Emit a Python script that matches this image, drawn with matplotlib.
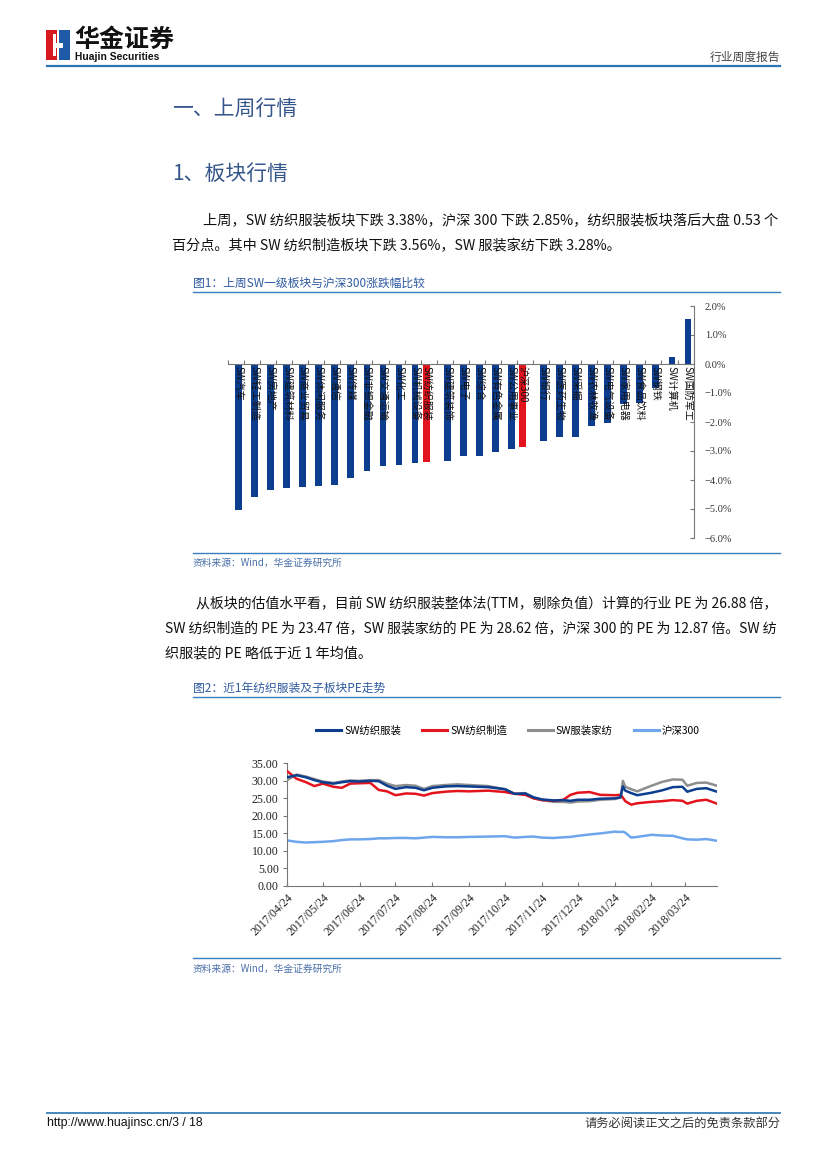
import numpy as np
import pandas as pd
import matplotlib
matplotlib.use("Agg")
import matplotlib.pyplot as plt
from matplotlib.lines import Line2D
from matplotlib.patches import Rectangle
from matplotlib.ticker import FuncFormatter

CJK = ['Noto Sans CJK SC', 'DejaVu Sans']
SERIF = ['Liberation Serif', 'Noto Sans CJK SC']
plt.rcParams['font.family'] = CJK

W, H = 827, 1169

# ---------- chart 1: weekly change by SW industry (%) ----------
industries = ['SW汽车', 'SW轻工制造', 'SW房地产', 'SW建筑材料', 'SW商业贸易', 'SW休闲服务',
              'SW通信', 'SW传媒', 'SW非银金融', 'SW交通运输', 'SW化工', 'SW机械设备',
              'SW纺织服装', 'SW建筑装饰', 'SW电子', 'SW综合', 'SW有色金属', 'SW公用事业',
              '沪深300', 'SW银行', 'SW医药生物', 'SW采掘', 'SW农林牧渔', 'SW电气设备',
              'SW家用电器', 'SW食品饮料', 'SW钢铁', 'SW计算机', 'SW国防军工']
changes = [-5.03, -4.59, -4.34, -4.28, -4.24, -4.20, -4.17, -3.93, -3.68, -3.51, -3.48,
           -3.40, -3.38, -3.35, -3.17, -3.16, -3.03, -2.94, -2.85, -2.66, -2.51, -2.50,
           -2.14, -2.05, -1.38, -1.33, -0.83, 0.25, 1.54]
highlight = ['SW纺织服装', '沪深300']

# ---------- chart 2: PE (TTM) over the last year ----------
pe_dates = ['2017-04-24', '2017-05-02', '2017-05-10', '2017-05-17', '2017-05-24', '2017-06-02',
            '2017-06-09', '2017-06-16', '2017-06-23', '2017-07-03', '2017-07-10', '2017-07-17',
            '2017-07-24', '2017-08-02', '2017-08-10', '2017-08-17', '2017-08-24', '2017-09-04',
            '2017-09-14', '2017-09-24', '2017-10-10', '2017-10-24', '2017-11-01', '2017-11-10',
            '2017-11-17', '2017-11-24', '2017-12-04', '2017-12-12', '2017-12-18', '2017-12-24',
            '2018-01-03', '2018-01-12', '2018-01-24', '2018-01-29', '2018-01-31', '2018-02-02',
            '2018-02-07', '2018-02-12', '2018-02-24', '2018-03-05', '2018-03-14', '2018-03-22',
            '2018-03-26', '2018-04-03', '2018-04-11', '2018-04-20']
pe_textile_apparel = [31.0, 31.6, 31.0, 30.2, 29.6, 29.2, 29.6, 29.9, 29.8, 30.0, 29.9, 28.6,
                      27.7, 28.2, 28.0, 27.3, 28.0, 28.4, 28.5, 28.4, 28.2, 27.6, 26.3, 26.4,
                      25.3, 24.7, 24.4, 24.5, 24.3, 24.6, 24.6, 24.9, 25.0, 25.3, 28.4, 27.2,
                      26.5, 25.9, 26.6, 27.3, 28.2, 28.3, 26.9, 27.7, 27.9, 26.9]
pe_textile_mfg = [32.8, 30.6, 29.6, 28.5, 29.2, 28.3, 28.0, 29.2, 29.3, 29.4, 27.4, 27.0,
                  25.9, 26.4, 26.3, 25.8, 26.5, 26.9, 27.1, 27.0, 27.2, 26.8, 26.3, 26.0,
                  25.0, 24.5, 24.3, 24.6, 26.0, 26.6, 26.8, 26.0, 25.9, 26.0, 25.2, 24.2,
                  23.2, 23.6, 24.0, 24.2, 24.5, 24.3, 23.5, 24.3, 24.6, 23.5]
pe_apparel_home = [30.2, 31.8, 31.2, 30.5, 29.8, 29.4, 29.8, 30.1, 30.0, 30.2, 30.2, 29.2,
                   28.5, 28.8, 28.6, 27.7, 28.5, 28.8, 29.0, 28.8, 28.5, 27.6, 26.3, 26.5,
                   25.1, 24.5, 24.0, 24.0, 23.8, 24.1, 24.2, 24.6, 24.8, 25.2, 30.0, 28.3,
                   27.6, 27.0, 28.6, 29.7, 30.4, 30.3, 28.6, 29.4, 29.5, 28.6]
pe_hs300 = [13.0, 12.6, 12.4, 12.5, 12.6, 12.8, 13.1, 13.3, 13.3, 13.4, 13.6, 13.6,
            13.7, 13.7, 13.6, 13.8, 14.0, 13.9, 13.9, 14.0, 14.1, 14.2, 13.8, 14.0,
            14.1, 13.8, 13.7, 13.9, 14.0, 14.3, 14.7, 15.0, 15.5, 15.4, 15.5, 15.2,
            13.8, 14.0, 14.6, 14.4, 14.3, 13.6, 13.3, 13.2, 13.4, 12.9]
pe_names = ['SW纺织服装', 'SW纺织制造', 'SW服装家纺', '沪深300']

BLUE = '#0c3d8e'
RED = '#e3141e'
LINE_BLUE = '#3a7dbd'
HEAD = '#35568a'
CAP = '#2e5aa0'


def fx(x):
    return x / W


def fy(y):
    return 1 - y / H


def hline(x0, x1, y, color, lw):
    fig.add_artist(Line2D([fx(x0), fx(x1)], [fy(y), fy(y)], color=color, lw=lw))


def body_line(x0, y, s, size=10.2, right=None):
    # full lines are stretched to the right margin, like the justified text of the page
    t = fig.text(fx(x0), fy(y), s, fontsize=size, va='center', color='#111111')
    if right is not None:
        w = t.get_window_extent(renderer=fig.canvas.get_renderer()).width
        t.set_fontsize(size * (right - x0) / w)
    return t


fig = plt.figure(figsize=(W / 100, H / 100), dpi=100)

# ================= page header =================
fig.add_artist(Rectangle((fx(46), fy(60)), 11 / W, 30 / H, color='#d7191f', lw=0))
fig.add_artist(Rectangle((fx(59), fy(60)), 11 / W, 30 / H, color='#1f5aa8', lw=0))
fig.add_artist(Rectangle((fx(53), fy(47.5)), 10 / W, 4 / H, color='white', lw=0))
fig.add_artist(Rectangle((fx(53), fy(56)), 2.5 / W, 22 / H, color='white', lw=0))
fig.text(fx(74), fy(40), '华金证券', fontsize=18, fontweight='bold', va='center', color='#111111')
fig.text(fx(75), fy(56.5), 'Huajin Securities', fontsize=7.4, fontweight='bold',
         family=['Liberation Sans'], va='center', color='#111111')
fig.text(fx(780), fy(57), '行业周度报告', fontsize=8.5, ha='right', va='center', color='#444444')
hline(47, 780, 66, '#2e75b6', 1.6)

# ================= body text =================
fig.text(fx(172), fy(109), '一、上周行情', fontsize=15, color=HEAD, va='center')
fig.text(fx(172), fy(174), '1、板块行情', fontsize=15, color=HEAD, va='center')

body_line(203, 220, '上周，SW 纺织服装板块下跌 3.38%，沪深 300 下跌 2.85%，纺织服装板块落后大盘 0.53 个',
          right=777)
body_line(172, 246, '百分点。其中 SW 纺织制造板块下跌 3.56%，SW 服装家纺下跌 3.28%。')

fig.text(fx(193), fy(283), '图1：上周SW一级板块与沪深300涨跌幅比较', fontsize=8.5, color=CAP, va='center')
hline(193, 780, 292, LINE_BLUE, 1.0)
hline(193, 780, 553, LINE_BLUE, 1.0)
fig.text(fx(193), fy(563), '资料来源：Wind，华金证券研究所', fontsize=7, color='#4a6fa8',
         style='italic', va='center')

body_line(196, 604, '从板块的估值水平看，目前 SW 纺织服装整体法(TTM，剔除负值）计算的行业 PE 为 26.88 倍，',
          right=777)
body_line(165, 629, 'SW 纺织制造的 PE 为 23.47 倍，SW 服装家纺的 PE 为 28.62 倍，沪深 300 的 PE 为 12.87 倍。SW 纺',
          right=777)
body_line(165, 653, '织服装的 PE 略低于近 1 年均值。')

fig.text(fx(193), fy(688), '图2：近1年纺织服装及子板块PE走势', fontsize=8.5, color=CAP, va='center')
hline(193, 780, 697, LINE_BLUE, 1.0)
hline(193, 780, 958, LINE_BLUE, 1.0)
fig.text(fx(193), fy(969), '资料来源：Wind，华金证券研究所', fontsize=7, color='#4a6fa8',
         style='italic', va='center')

# ================= chart 1 =================
ax1 = fig.add_axes([fx(228), fy(538), (693.6 - 228) / W, (538 - 306) / H])
pos = np.arange(len(industries))
is_red = np.array([n in highlight for n in industries])
offs = np.where(is_red, -0.15, 0.15)
ax1.bar(pos + offs, changes, width=0.42, color=np.where(is_red, RED, BLUE), zorder=2)
ax1.set_xlim(-0.5, len(industries) - 0.5)
ax1.set_ylim(-6, 2)
for s in ['left', 'top']:
    ax1.spines[s].set_visible(False)
ax1.spines['bottom'].set_position(('data', 0))
for s in ['bottom', 'right']:
    ax1.spines[s].set_color('#777777')
    ax1.spines[s].set_linewidth(0.8)
ax1.yaxis.tick_right()
ax1.set_yticks(np.arange(-6, 2.1, 1))
ax1.yaxis.set_major_formatter(FuncFormatter(lambda v, p: f'{v:.1f}%'.replace('-', '\u2212')))
ax1.tick_params(axis='y', direction='in', length=3, color='#777777', labelsize=7.5,
                labelcolor='#333333', pad=8)
for lab in ax1.get_yticklabels():
    lab.set_family(SERIF)
ax1.set_xticks(np.arange(-0.5, len(industries), 1))
ax1.set_xticklabels([])
ax1.tick_params(axis='x', direction='in', length=3, color='#777777')
for p, o, n in zip(pos, offs, industries):
    ax1.text(p + o, -0.07, n, rotation=-90, ha='center', va='top', fontsize=7.2,
             color='#111111', zorder=3)

# ================= chart 2 =================
ax2 = fig.add_axes([fx(287), fy(886), (717 - 287) / W, (886 - 763.3) / H])
d = pd.to_datetime(pe_dates)
series = [pe_textile_apparel, pe_textile_mfg, pe_apparel_home, pe_hs300]
colors = [BLUE, RED, '#8e8e8e', '#6ea6ee']
for i in [3, 2, 1, 0]:
    ax2.plot(d, series[i], color=colors[i], lw=1.8, label=pe_names[i], zorder=2 + (3 - i))
ax2.set_ylim(0, 35)
ax2.set_xlim(pd.Timestamp('2017-04-24'), pd.Timestamp('2018-04-20'))
ax2.set_yticks(np.arange(0, 36, 5))
ax2.yaxis.set_major_formatter(FuncFormatter(lambda v, p: f'{v:.2f}'))
ticks = pd.date_range('2017-04-24', periods=12, freq=pd.DateOffset(months=1))
ax2.set_xticks(ticks)
ax2.set_xticklabels([t.strftime('%Y/%m/%d') for t in ticks], rotation=45, ha='right',
                    rotation_mode='anchor')
for s in ['top', 'right']:
    ax2.spines[s].set_visible(False)
for s in ['left', 'bottom']:
    ax2.spines[s].set_color('#777777')
    ax2.spines[s].set_linewidth(0.8)
ax2.tick_params(axis='x', direction='in', length=3, color='#777777', labelsize=8.5, pad=4)
ax2.tick_params(axis='y', direction='out', length=3, color='#777777', labelsize=8.5, pad=3)
for lab in ax2.get_xticklabels() + ax2.get_yticklabels():
    lab.set_family(SERIF)
    lab.set_color('#222222')

handles = [Line2D([], [], color=c, lw=2.2) for c in colors]
fig.legend(handles, pe_names, loc='center', bbox_to_anchor=(fx(508), fy(731)), ncol=4,
           frameon=False, fontsize=7.5, handlelength=2.4, columnspacing=2.0, handletextpad=0.3)

# ================= footer =================
hline(47, 780, 1113, '#4a86b8', 1.4)
fig.text(fx(47), fy(1123), 'http://www.huajinsc.cn/3 / 18', fontsize=8.8, family=['Liberation Sans'],
         va='center', color='#111111')
fig.text(fx(780), fy(1123), '请务必阅读正文之后的免责条款部分', fontsize=8.8, ha='right', va='center',
         color='#333333')

fig.savefig('out.png', dpi=100)
